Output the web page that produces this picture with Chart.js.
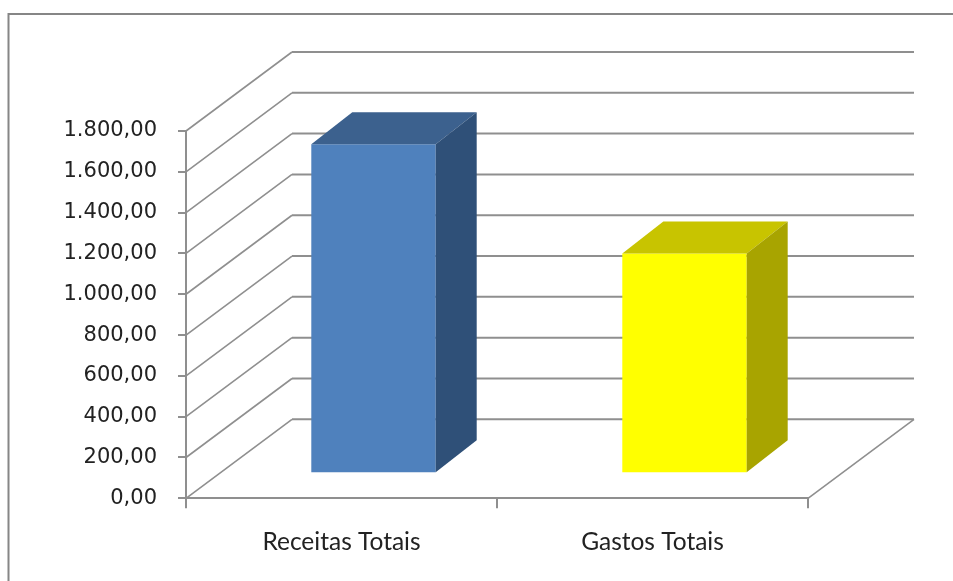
<!DOCTYPE html>
<html>
<head>
<meta charset="utf-8">
<script src="https://cdn.jsdelivr.net/npm/chart.js@4"></script>
<style>
    html, body { margin: 0; padding: 0; background: #fff; overflow: hidden; }
</style>
</head>
<body>
<canvas id="chart" width="953" height="581"></canvas>
<script>
// Data ================================================================================================================
const categories = ['Receitas Totais', 'Gastos Totais'];
const values = [1612, 1077];
const yTicks = [0, 200, 400, 600, 800, 1000, 1200, 1400, 1600, 1800];

// Look ================================================================================================================
const frontColors = ['#4f81bd', '#ffff00'];
const topColors = ['#3c618e', '#c8c400'];
const sideColors = ['#2f5078', '#a8a400'];
const gridColor = '#8f8f8f';

// 3D box depth (px), bar depth (px) and where the bars sit inside the box
const WALL_DX = 106, WALL_DY = -79;
const BAR_DX = 41, BAR_DY = -32;
const BAR_SHIFT_X = 32, BAR_SHIFT_Y = -25;

// 1800 -> "1.800,00"
function formatBR(v) {
    const parts = v.toFixed(2).split('.');
    return parts[0].replace(/\B(?=(\d{3})+(?!\d))/g, '.') + ',' + parts[1];
}

// frame around the whole chart
const frame = {
    id: 'frame',
    beforeDraw(chart) {
        const ctx = chart.ctx;
        ctx.save();
        ctx.strokeStyle = '#868686';
        ctx.lineWidth = 2;
        ctx.strokeRect(8.5, 14, 1000, 700);
        ctx.restore();
    }
};

// walls, floor and the top / side faces of the bars
const box3d = {
    id: 'box3d',
    beforeDatasetsDraw(chart) {
        const ctx = chart.ctx;
        const area = chart.chartArea;
        const y = chart.scales.y;
        ctx.save();
        ctx.strokeStyle = gridColor;
        yTicks.forEach(v => {
            const py = y.getPixelForValue(v);
            ctx.lineWidth = 1.6;
            ctx.beginPath();
            ctx.moveTo(area.left, py);
            ctx.lineTo(area.left + WALL_DX, py + WALL_DY);
            ctx.stroke();
            ctx.lineWidth = 2;
            ctx.beginPath();
            ctx.moveTo(area.left + WALL_DX, py + WALL_DY);
            ctx.lineTo(area.right + WALL_DX, py + WALL_DY);
            ctx.stroke();
        });
        // floor, right edge
        ctx.lineWidth = 1.6;
        ctx.beginPath();
        ctx.moveTo(area.right, area.bottom);
        ctx.lineTo(area.right + WALL_DX, area.bottom + WALL_DY);
        ctx.stroke();
        ctx.restore();
    },
    beforeDatasetDraw(chart) {
        chart.ctx.save();
        chart.ctx.translate(BAR_SHIFT_X, BAR_SHIFT_Y);
    },
    afterDatasetDraw(chart, args) {
        const ctx = chart.ctx;
        args.meta.data.forEach((bar, i) => {
            const p = bar.getProps(['x', 'y', 'base', 'width'], true);
            const l = p.x - p.width / 2, r = p.x + p.width / 2;
            // top
            ctx.fillStyle = topColors[i];
            ctx.beginPath();
            ctx.moveTo(l, p.y);
            ctx.lineTo(r, p.y);
            ctx.lineTo(r + BAR_DX, p.y + BAR_DY);
            ctx.lineTo(l + BAR_DX, p.y + BAR_DY);
            ctx.closePath();
            ctx.fill();
            // side
            ctx.fillStyle = sideColors[i];
            ctx.beginPath();
            ctx.moveTo(r, p.y);
            ctx.lineTo(r + BAR_DX, p.y + BAR_DY);
            ctx.lineTo(r + BAR_DX, p.base + BAR_DY);
            ctx.lineTo(r, p.base);
            ctx.closePath();
            ctx.fill();
        });
        ctx.restore();
    }
};

new Chart(document.getElementById('chart'), {
    type: 'bar',
    data: {
        labels: categories,
        datasets: [
            {
                data: values,
                backgroundColor: frontColors,
                borderWidth: 0,
                categoryPercentage: 1.0,
                barPercentage: 0.4,
                clip: false
            }
        ]
    },
    options: {
        responsive: false,
        animation: false,
        devicePixelRatio: 1,
        layout: { padding: { top: 131, right: 145, left: 0, bottom: 0 } },
        plugins: {
            legend: { display: false },
            tooltip: { enabled: false }
        },
        scales: {
            x: {
                type: 'category',
                offset: true,
                grid: { offset: true, drawOnChartArea: false, tickLength: 10, color: gridColor, lineWidth: 2 },
                border: { color: gridColor, width: 2 },
                ticks: { font: { family: 'Lato', size: 24.5 }, color: '#222', padding: 19 },
                afterFit: s => { s.height = 82.7; }
            },
            y: {
                min: 0,
                max: 1800,
                grid: { drawOnChartArea: false, tickLength: 8, color: gridColor, lineWidth: 2 },
                border: { color: gridColor, width: 2 },
                ticks: {
                    font: { family: 'DejaVu Sans', size: 21 },
                    color: '#222',
                    padding: 21,
                    callback: v => formatBR(v)
                },
                afterBuildTicks: s => { s.ticks = yTicks.map(v => ({ value: v })); },
                afterFit: s => { s.width = 186; }
            }
        }
    },
    plugins: [frame, box3d]
});
</script>
</body>
</html>
